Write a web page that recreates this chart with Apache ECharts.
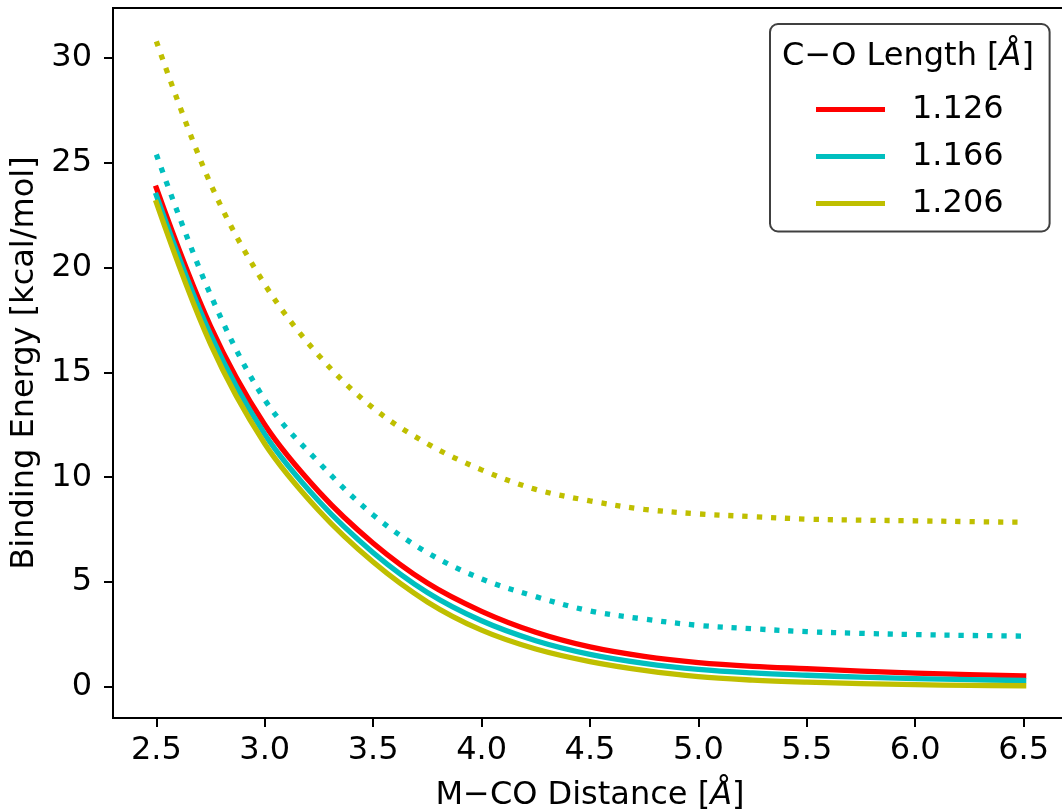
<!DOCTYPE html>
<html>
<head>
<meta charset="utf-8">
<script src="https://cdn.jsdelivr.net/npm/echarts@6/dist/echarts.min.js"></script>
<style>html,body{margin:0;padding:0;background:#fff;}#c{width:1062px;height:810px;}</style>
</head>
<body>
<div id="c"></div>
<script>
// M–CO distance (Å)
const distance = [2.5, 2.75, 3.0, 3.25, 3.5, 3.75, 4.0, 4.25, 4.5, 4.75, 5.0, 5.25, 5.5, 5.75, 6.0, 6.25, 6.5];
// Solid curves (binding energy, kcal/mol)
const solid1126 = [23.8, 17.2, 12.5, 9.3, 6.85, 4.95, 3.6, 2.6, 1.9, 1.45, 1.15, 0.97, 0.86, 0.75, 0.65, 0.58, 0.52];
const solid1166 = [23.45, 16.8, 12.05, 8.85, 6.4, 4.5, 3.15, 2.2, 1.55, 1.12, 0.83, 0.66, 0.55, 0.46, 0.39, 0.34, 0.30];
const solid1206 = [23.1, 16.35, 11.6, 8.4, 5.95, 4.05, 2.7, 1.8, 1.2, 0.78, 0.48, 0.32, 0.22, 0.15, 0.10, 0.07, 0.05];
// Dotted curves
const dotted1166 = [25.4, 18.7, 13.7, 10.7, 8.2, 6.4, 5.15, 4.3, 3.62, 3.23, 2.93, 2.77, 2.63, 2.55, 2.49, 2.45, 2.42];
const dotted1206 = [30.8, 24.0, 19.2, 15.8, 13.3, 11.6, 10.35, 9.42, 8.87, 8.47, 8.25, 8.12, 8.0, 7.95, 7.92, 7.88, 7.85];
// Legend labels and ticks
const legendNames = ['1.126', '1.166', '1.206'];
const legendTitle = 'C\u2212O Length [{i|\u00C5}]';
const xTicks = [2.5, 3.0, 3.5, 4.0, 4.5, 5.0, 5.5, 6.0, 6.5];
const yTicks = [0, 5, 10, 15, 20, 25, 30];
const xName = 'M\u2212CO Distance [{i|\u00C5}]';
const yName = 'Binding Energy [kcal/mol]';

const FONT = 'DejaVu Sans';
const RED = '#ff0000', CYAN = '#00bfbf', YEL = '#bfbf00';
const pairs = arr => distance.map((x, i) => [x, arr[i]]);
const italic = {fontStyle: 'italic', fontSize: 32, fontFamily: FONT, color: '#000'};

const chart = echarts.init(document.getElementById('c'), null, {renderer: 'canvas'});
const solidStyle = c => ({color: c, width: 5.3, cap: 'square', join: 'round'});
const dotStyle = c => ({color: c, width: 5.3, type: [5.3, 8.9], cap: 'butt'});
const mk = (name, arr, style, z) => ({
  name, type: 'line', data: pairs(arr), showSymbol: false, symbol: 'none',
  smooth: 0.35, lineStyle: style, itemStyle: {color: style.color}, z: z, silent: true
});

chart.setOption({
  animation: false,
  backgroundColor: '#fff',
  textStyle: {fontFamily: FONT},
  grid: {left: 113, right: -5, top: 8, bottom: 92, containLabel: false, outerBoundsMode: 'none',
         show: true, borderColor: '#000', borderWidth: 2, backgroundColor: 'transparent'},
  xAxis: {
    type: 'value', min: 2.3, max: 6.7,
    name: xName, nameLocation: 'middle', nameGap: 62,
    nameTextStyle: {fontSize: 32, color: '#000', fontFamily: FONT, rich: {i: italic}},
    axisLine: {show: true, onZero: false, lineStyle: {color: '#000', width: 2}},
    axisTick: {show: true, length: 9, lineStyle: {color: '#000', width: 2}, customValues: xTicks},
    axisLabel: {show: true, fontSize: 32, color: '#000', fontFamily: FONT, margin: 17,
                customValues: xTicks, formatter: v => v.toFixed(1)},
    splitLine: {show: false}
  },
  yAxis: {
    type: 'value', min: -1.49, max: 32.39,
    name: yName, nameLocation: 'middle', nameGap: 68,
    nameTextStyle: {fontSize: 32, color: '#000', fontFamily: FONT},
    axisLine: {show: true, onZero: false, lineStyle: {color: '#000', width: 2}},
    axisTick: {show: true, length: 9, lineStyle: {color: '#000', width: 2}, customValues: yTicks},
    axisLabel: {show: true, fontSize: 32, color: '#000', fontFamily: FONT, margin: 21,
                customValues: yTicks, formatter: v => String(v)},
    splitLine: {show: false}
  },
  legend: {
    data: legendNames, orient: 'vertical', left: 770, top: 24,
    padding: [69.5, 46, 12, 46], itemWidth: 69, itemHeight: 5, itemGap: 15, icon: 'rect',
    borderColor: '#404040', borderWidth: 2, borderRadius: 8, backgroundColor: '#fff',
    selectedMode: false,
    textStyle: {fontSize: 32, color: '#000', fontFamily: FONT, lineHeight: 32, padding: [0, 0, 0, 22]}
  },
  graphic: [{
    type: 'text', x: 908, y: 57, z: 100,
    style: {text: legendTitle, fontSize: 32, fontFamily: FONT, fill: '#000',
            align: 'center', verticalAlign: 'middle', rich: {i: italic}}
  }],
  series: [
    mk('d1.206', dotted1206, dotStyle(YEL), 2),
    mk('d1.166', dotted1166, dotStyle(CYAN), 2),
    mk(legendNames[0], solid1126, solidStyle(RED), 3),
    mk(legendNames[1], solid1166, solidStyle(CYAN), 4),
    mk(legendNames[2], solid1206, solidStyle(YEL), 5)
  ]
});
</script>
</body>
</html>
